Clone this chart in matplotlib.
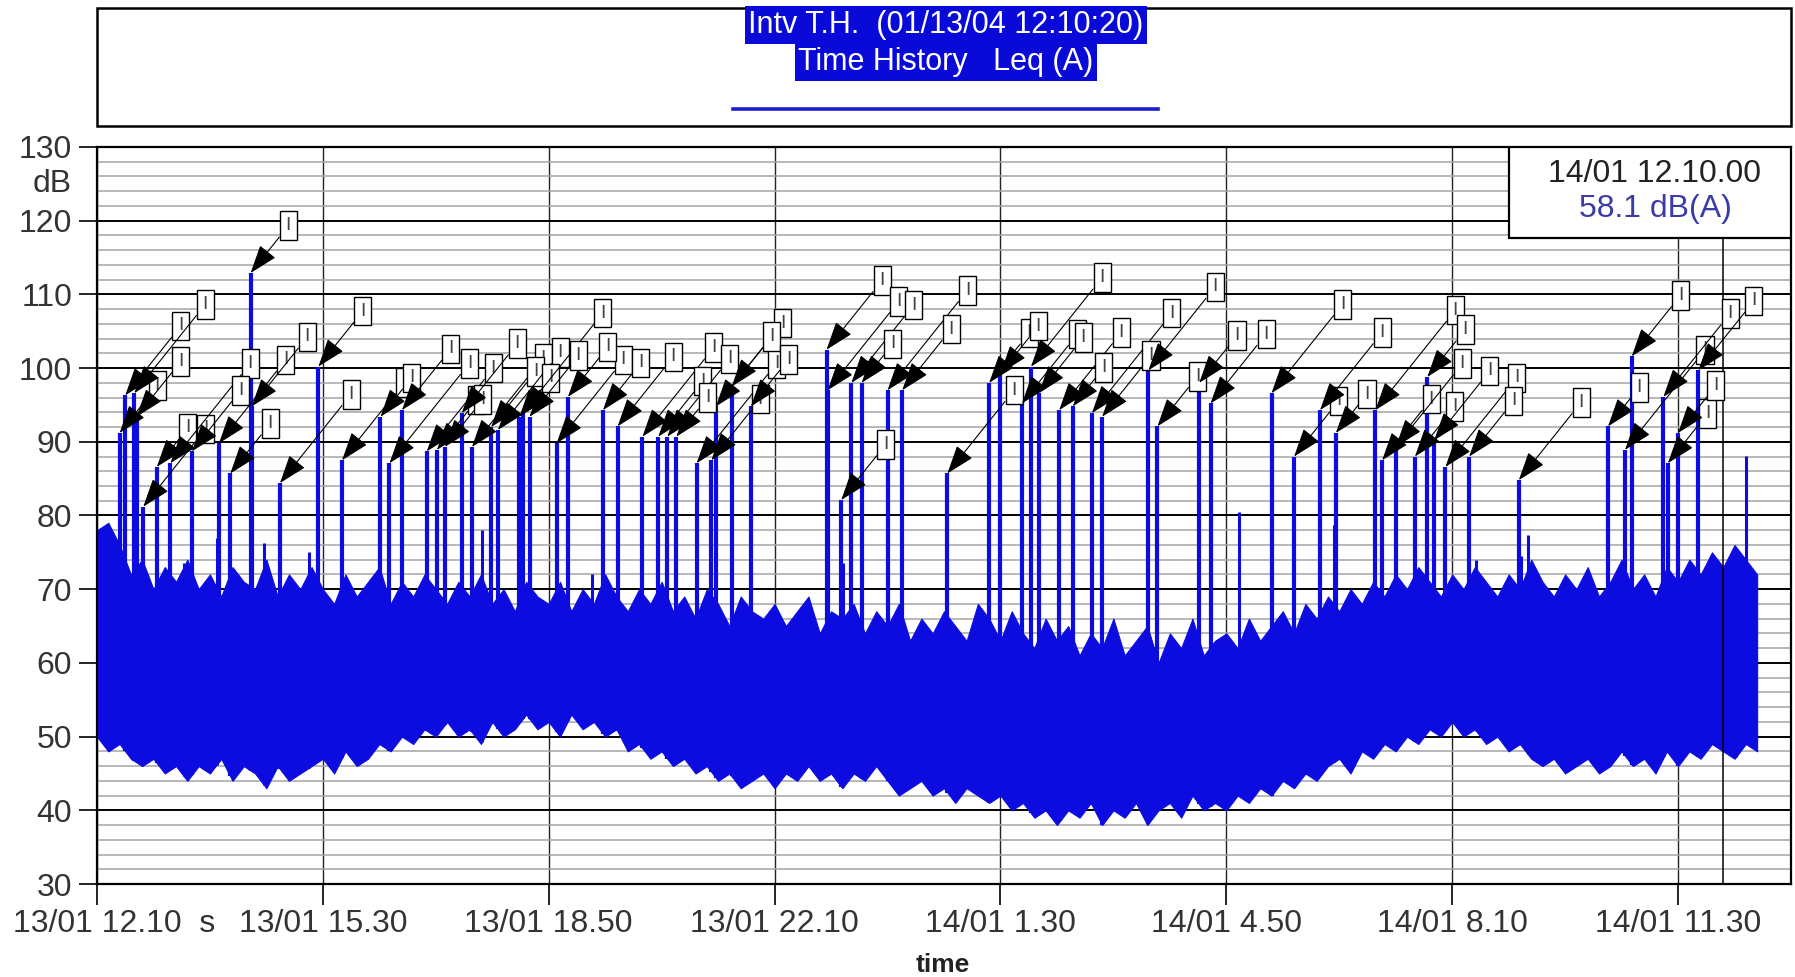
import numpy as np
import matplotlib
matplotlib.use('Agg')
import matplotlib.pyplot as plt
import matplotlib.transforms as mtransforms
from matplotlib.patches import Rectangle
from matplotlib.lines import Line2D
from matplotlib.ticker import MultipleLocator

# ---------------------------------------------------------------- data
# time in minutes after 13/01 12.10, level in dB(A)

# background noise band, sampled every 10 min (0 .. 1470)
grid_min = list(range(0, 1480, 10))
band_high = [
    78, 79, 76, 72, 74, 70, 73, 71, 74, 70,
    72, 69, 73, 71, 70, 74, 69, 72, 70, 73,
    70, 68, 72, 69, 71, 73, 68, 71, 69, 72,
    70, 68, 71, 69, 72, 68, 70, 67, 71, 69,
    68, 71, 67, 70, 68, 72, 69, 67, 70, 68,
    71, 67, 69, 66, 70, 68, 65, 69, 67, 66,
    68, 65, 67, 69, 64, 67, 66, 68, 64, 67,
    65, 68, 63, 66, 64, 67, 65, 63, 68, 66,
    63, 67, 64, 62, 66, 63, 65, 61, 64, 62,
    66, 61, 63, 65, 60, 64, 62, 66, 61, 63,
    64, 62, 66, 63, 65, 67, 64, 68, 66, 69,
    67, 70, 68, 71, 69, 72, 70, 73, 71, 69,
    72, 70, 73, 71, 69, 72, 70, 74, 71, 69,
    72, 70, 73, 69, 71, 74, 70, 72, 69, 73,
    71, 74, 72, 75, 73, 76, 74, 72,
]
band_low = [
    50, 48, 49, 47, 46, 47, 45, 46, 44, 46,
    45, 47, 44, 46, 45, 43, 46, 44, 45, 46,
    47, 45, 48, 46, 47, 49, 48, 50, 49, 51,
    50, 52, 50, 51, 49, 52, 50, 51, 53, 51,
    52, 50, 53, 51, 52, 50, 51, 48, 49, 47,
    48, 46, 47, 45, 46, 44, 45, 43, 44, 45,
    43, 45, 44, 46, 44, 45, 43, 45, 44, 46,
    44, 42, 43, 44, 42, 43, 41, 43, 42, 41,
    42, 40, 41, 39, 40, 38, 40, 39, 41, 38,
    40, 39, 41, 38, 40, 41, 39, 42, 40, 41,
    40, 42, 41, 43, 42, 44, 43, 45, 44, 46,
    47, 45, 48, 47, 49, 48, 50, 49, 51, 50,
    52, 50, 51, 49, 50, 48, 49, 47, 46, 47,
    45, 46, 47, 45, 46, 48, 46, 47, 45, 48,
    46, 48, 47, 49, 48, 47, 49, 48,
]

# marked events (peaks with a marker box)
event_min = [
    20, 25, 33, 35, 41, 53, 65, 84, 108, 118, 136, 137, 162, 196, 217,
    251, 259, 270, 292, 301, 308, 323, 332, 349, 355, 374, 377, 383, 407,
    417, 448, 461, 483, 497, 505, 513, 531, 544, 548, 562, 579, 646, 647,
    659, 668, 677, 700, 713, 753, 790, 800, 819, 827, 834, 852, 864, 881,
    890, 931, 939, 976, 986, 1040, 1060, 1083, 1097, 1132, 1138, 1150,
    1167, 1178, 1184, 1194, 1215, 1259, 1338, 1353, 1359, 1387, 1391,
    1400, 1418,
]
event_db = [
    91.2, 96.3, 96.6, 93.4, 81.2, 86.6, 87.1, 88.7, 89.8, 85.7, 112.9, 94.8,
    84.4, 100.2, 87.5, 93.4, 87.1, 94.3, 88.7, 88.9, 89.3, 93.9, 89.3, 92.0,
    91.6, 93.4, 93.9, 93.4, 89.8, 96.1, 94.3, 92.1, 90.7, 90.7, 90.7, 90.7,
    87.1, 87.5, 94.8, 97.5, 94.8, 102.5, 97.0, 82.1, 98.0, 98.0, 97.0, 97.0,
    85.7, 98.0, 99.3, 95.2, 100.2, 96.6, 94.3, 94.8, 93.9, 93.4, 99.7, 92.1,
    98.0, 95.2, 96.6, 88.0, 94.3, 91.2, 94.3, 87.5, 89.3, 88.0, 98.8, 90.2,
    86.6, 88.0, 84.8, 92.1, 88.9, 101.6, 96.1, 87.1, 91.2, 99.7,
]

# smaller unmarked peaks
minor_min = [77, 106, 148, 188, 250, 341, 383, 438, 661, 986, 1011,
             1095, 1221, 1261, 1267, 1451, 1460]
minor_db = [73.5, 77.0, 76.3, 75.0, 82.4, 78.0, 77.8, 72.0, 73.5, 81.0,
            80.5, 78.7, 74.0, 74.5, 77.3, 72.7, 88.1]

tick_min = [0, 200, 400, 600, 800, 1000, 1200, 1400]
tick_labels = ['13/01 12.10  s', '13/01 15.30', '13/01 18.50', '13/01 22.10',
               '14/01 1.30', '14/01 4.50', '14/01 8.10', '14/01 11.30']

cursor_min = 1440
cursor_time = '14/01 12.10.00'
cursor_value = '58.1 dB(A)'

title_1 = 'Intv T.H.  (01/13/04 12:10:20)'
title_2 = 'Time History   Leq (A)'

# ---------------------------------------------------------------- plot
plt.rcParams['font.family'] = ['Liberation Sans', 'DejaVu Sans']
BLUE = '#0c0ce0'
W, H = 1795, 977

fig = plt.figure(figsize=(W / 100, H / 100), dpi=100)
ax = fig.add_axes([97 / W, 1 - 884 / H, 1694 / W, 737 / H])

ax.set_xlim(0, 1500)
ax.set_ylim(30, 130)
ax.set_yticks(range(30, 131, 10))
ax.yaxis.set_minor_locator(MultipleLocator(2))
ax.set_xticks(tick_min)
ax.set_xticklabels(tick_labels)

ax.grid(which='minor', axis='y', color='#a4a4a4', lw=1.1)
ax.grid(which='major', axis='y', color='black', lw=1.4)
ax.grid(which='major', axis='x', color='#222222', lw=1.0)
ax.set_axisbelow(True)
ax.tick_params(axis='y', which='minor', length=0)
ax.tick_params(axis='y', which='major', length=13, width=1.2, pad=5,
               labelsize=23, labelcolor='#333333')
ax.tick_params(axis='x', length=15, width=1.2, pad=3, labelsize=23,
               labelcolor='#333333')
for s in ax.spines.values():
    s.set_color('black')
    s.set_linewidth(1.6)

# first label sits a bit to the right of its tick
lab0 = ax.get_xticklabels()[0]
lab0.set_transform(lab0.get_transform() +
                   mtransforms.ScaledTranslation(12 / 72, 0, fig.dpi_scale_trans))

ax.annotate('dB', xy=(0, 125), xycoords=('axes fraction', 'data'),
            xytext=(-18, 0), textcoords='offset points', ha='right',
            va='center', fontsize=23, color='#333333')

# noise band
ax.fill_between(grid_min, band_low, band_high, color=BLUE, lw=0.8, zorder=2)

# peaks
ev_base = np.interp(event_min, grid_min, band_low)
ax.vlines(event_min, ev_base, event_db, color=BLUE, lw=3.0, zorder=3)
mn_base = np.interp(minor_min, grid_min, band_low)
ax.vlines(minor_min, mn_base, minor_db, color=BLUE, lw=2.2, zorder=3)

offs = [34, 50, 64, 40, 56, 28, 72, 44, 60, 36]
for i, (t, v) in enumerate(zip(event_min, event_db)):
    d = offs[i % len(offs)]
    ax.annotate('I', xy=(t, v), xytext=(d * 0.8, d), textcoords='offset points',
                ha='center', va='center', fontsize=14, color='#444444',
                bbox=dict(boxstyle='square,pad=0.3', fc='white', ec='black', lw=1),
                arrowprops=dict(arrowstyle='-|>,head_length=1.2,head_width=0.42',
                                mutation_scale=15, color='black', lw=0.8,
                                shrinkA=0, shrinkB=0),
                zorder=5)

# cursor and readout box
ax.axvline(cursor_min, color='black', lw=1.1, zorder=4)
ax.add_patch(Rectangle((0.8335, 0.8765), 0.1665, 0.1235, transform=ax.transAxes,
                       fc='white', ec='black', lw=1.6, zorder=6))
ax.text(0.9197, 0.963, cursor_time, transform=ax.transAxes, ha='center',
        va='center', fontsize=23, color='#222222', zorder=7)
ax.text(0.9197, 0.916, cursor_value, transform=ax.transAxes, ha='center',
        va='center', fontsize=23, color='#3a3aa8', zorder=7)

fig.text(943 / W, 1 - 965 / H, 'time', ha='center', va='center', fontsize=19,
         fontweight='bold', color='#222222')

# header box
fig.patches.append(Rectangle((97 / W, 1 - 126 / H), 1694 / W, 118 / H,
                             transform=fig.transFigure, fill=False,
                             ec='black', lw=1.8))
fig.text(946 / W, 1 - 25 / H, title_1, ha='center', va='center', fontsize=22,
         color='white', bbox=dict(boxstyle='square,pad=0.12', fc='#0a0ad8', ec='none'))
fig.text(946 / W, 1 - 62 / H, title_2, ha='center', va='center', fontsize=22,
         color='white', bbox=dict(boxstyle='square,pad=0.12', fc='#0a0ad8', ec='none'))
fig.add_artist(Line2D([733 / W, 1158 / W], [1 - 109 / H] * 2, color='#1c1cd0', lw=2.6))

fig.savefig('out.png', dpi=100)
